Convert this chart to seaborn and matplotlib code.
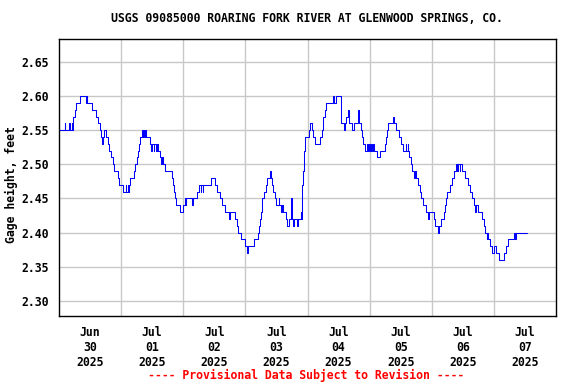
import pandas as pd
import matplotlib
matplotlib.use("Agg")
import matplotlib.pyplot as plt
import seaborn as sns

# gage height change points: hours after Jun 30 2025 00:00, value in feet
hours = [
    0.0, 2.2, 2.4, 3.9, 4.1, 4.9, 5.1, 5.3, 5.6, 6.2, 6.7, 8.0, 10.5, 10.8, 11.0,
    12.8, 14.4, 15.2, 15.7, 16.4, 16.8, 17.0, 17.3, 18.2, 19.0, 19.5, 20.0, 20.9,
    21.3, 22.9, 23.1, 24.8, 25.7, 25.9, 26.7, 27.0, 27.2, 27.4, 28.9, 29.5, 30.2,
    30.6, 31.0, 31.3, 31.9, 32.3, 32.5, 33.0, 33.2, 33.5, 35.1, 35.7, 35.9, 36.6,
    36.8, 37.6, 37.8, 38.3, 38.9, 39.3, 39.7, 40.2, 40.8, 43.7, 44.0, 44.4, 44.8,
    45.3, 46.6, 47.9, 48.7, 48.9, 49.2, 51.5, 51.7, 53.3, 54.1, 54.7, 54.9, 55.6,
    55.8, 58.8, 60.2, 61.0, 62.3, 63.0, 64.3, 65.6, 66.0, 67.9, 68.6, 69.2, 70.5,
    71.8, 72.6, 73.0, 75.5, 77.0, 77.3, 77.6, 78.0, 78.3, 78.6, 79.2, 79.8, 80.5,
    81.4, 81.8, 82.1, 82.7, 83.3, 84.0, 84.9, 85.1, 85.9, 86.3, 86.5, 87.8, 88.2,
    88.7, 89.8, 90.1, 90.4, 90.7, 92.1, 92.4, 93.4, 93.6, 93.9, 94.0, 94.3, 94.6,
    95.0, 96.7, 97.0, 97.7, 98.2, 98.8, 100.8, 101.5, 101.8, 102.0, 102.8, 103.3,
    105.9, 106.4, 106.9, 108.9, 109.1, 110.1, 110.5, 110.8, 111.6, 111.9, 113.3,
    113.9, 115.6, 115.9, 116.8, 117.2, 117.6, 118.1, 118.8, 119.2, 119.8, 120.0,
    120.6, 121.0, 121.4, 121.6, 122.8, 123.9, 125.8, 126.3, 126.7, 127.1, 129.1,
    129.3, 130.0, 131.3, 132.3, 133.0, 133.9, 134.1, 134.8, 135.0, 135.2, 135.8,
    136.4, 137.0, 137.5, 137.8, 138.8, 139.3, 140.0, 140.5, 141.6, 142.6, 142.9,
    144.8, 145.4, 146.5, 146.8, 147.4, 148.6, 149.3, 149.6, 149.9, 151.2, 151.8,
    152.5, 153.4, 153.7, 154.1, 154.8, 155.0, 155.7, 157.0, 158.0, 158.9, 159.5,
    160.2, 160.6, 161.1, 161.8, 163.6, 164.0, 164.7, 165.2, 165.4, 165.9, 166.6,
    167.2, 168.2, 168.7, 169.8, 172.1, 172.6, 173.3, 175.6, 176.2, 176.5, 180.7,
]
gage_ft = [
    2.55, 2.56, 2.55, 2.56, 2.55, 2.56, 2.55, 2.56, 2.57, 2.58, 2.59, 2.60, 2.59, 2.60, 2.59,
    2.58, 2.57, 2.56, 2.55, 2.54, 2.53, 2.54, 2.55, 2.54, 2.53, 2.52, 2.51, 2.50,
    2.49, 2.48, 2.47, 2.46, 2.47, 2.46, 2.47, 2.46, 2.47, 2.48, 2.49, 2.50, 2.51,
    2.52, 2.53, 2.54, 2.55, 2.54, 2.55, 2.54, 2.55, 2.54, 2.53, 2.52, 2.53, 2.52,
    2.53, 2.52, 2.53, 2.52, 2.51, 2.50, 2.51, 2.50, 2.49, 2.48, 2.47, 2.46, 2.45,
    2.44, 2.43, 2.44, 2.45, 2.44, 2.45, 2.44, 2.45, 2.46, 2.47, 2.46, 2.47, 2.46,
    2.47, 2.48, 2.47, 2.46, 2.45, 2.44, 2.43, 2.42, 2.43, 2.42, 2.41, 2.40, 2.39,
    2.38, 2.37, 2.38, 2.39, 2.40, 2.41, 2.42, 2.43, 2.44, 2.45, 2.46, 2.47, 2.48,
    2.49, 2.48, 2.47, 2.46, 2.45, 2.44, 2.45, 2.44, 2.43, 2.44, 2.43, 2.42, 2.41,
    2.42, 2.45, 2.42, 2.41, 2.42, 2.41, 2.42, 2.43, 2.42, 2.44, 2.47, 2.49, 2.52,
    2.54, 2.55, 2.56, 2.55, 2.54, 2.53, 2.54, 2.55, 2.56, 2.57, 2.58, 2.59,
    2.60, 2.59, 2.60, 2.57, 2.56, 2.55, 2.56, 2.57, 2.58, 2.56, 2.55,
    2.56, 2.58, 2.56, 2.55, 2.54, 2.53, 2.52, 2.53, 2.52, 2.53, 2.52,
    2.53, 2.52, 2.53, 2.52, 2.51, 2.52, 2.53, 2.54, 2.55, 2.56, 2.57,
    2.56, 2.55, 2.54, 2.53, 2.52, 2.53, 2.52, 2.53, 2.52, 2.51, 2.50,
    2.49, 2.48, 2.49, 2.48, 2.47, 2.46, 2.45, 2.44, 2.43, 2.42, 2.43,
    2.42, 2.41, 2.40, 2.41, 2.42, 2.43, 2.44, 2.45, 2.46, 2.47, 2.48,
    2.49, 2.50, 2.49, 2.50, 2.49, 2.50, 2.49, 2.48, 2.47, 2.46, 2.45,
    2.44, 2.43, 2.44, 2.43, 2.42, 2.41, 2.40, 2.39, 2.40, 2.39, 2.38,
    2.37, 2.38, 2.37, 2.36, 2.37, 2.38, 2.39, 2.40, 2.39, 2.40, 2.40,
]

y_ticks = [2.30, 2.35, 2.40, 2.45, 2.50, 2.55, 2.60, 2.65]
day_labels = ["Jun\n30\n2025", "Jul\n01\n2025", "Jul\n02\n2025", "Jul\n03\n2025",
              "Jul\n04\n2025", "Jul\n05\n2025", "Jul\n06\n2025", "Jul\n07\n2025"]

TITLE = "USGS 09085000 ROARING FORK RIVER AT GLENWOOD SPRINGS, CO."
FOOTER = "---- Provisional Data Subject to Revision ----"

start = pd.Timestamp("2025-06-30")
df = pd.DataFrame({
    "time": start + pd.to_timedelta(hours, unit="h"),
    "gage": gage_ft,
})

sns.set_style("white")
plt.rcParams.update({
    "font.family": "DejaVu Sans Mono",
    "font.weight": "bold",
    "font.size": 8.3,
    "text.color": "black",
    "axes.labelcolor": "black",
    "xtick.color": "black",
    "ytick.color": "black",
})

fig = plt.figure(figsize=(5.76, 3.84), dpi=100)
ax = fig.add_axes([59 / 576, 1 - 316 / 384, 497 / 576, 277 / 384])

sns.lineplot(data=df, x="time", y="gage", ax=ax, color="#0000ff",
             linewidth=0.75, drawstyle="steps-post", estimator=None, sort=False)

# labels sit at noon, grid lines at midnight
noons = [start + pd.Timedelta(days=i, hours=12) for i in range(len(day_labels))]
midnights = [start + pd.Timedelta(days=i) for i in range(1, 8)]
ax.set_xticks(noons)
ax.set_xticklabels(day_labels, fontweight="bold")
ax.set_xticks(midnights, minor=True)
ax.set_xlim(start, start + pd.Timedelta(days=8))

ax.set_yticks(y_ticks)
ax.set_yticklabels([f"{v:.2f}" for v in y_ticks], fontweight="bold")
ax.set_ylim(2.2776, 2.6837)

ax.grid(False)
ax.grid(True, axis="x", which="minor", color="#c8c8c8", linewidth=1)
ax.grid(True, axis="y", which="major", color="#c8c8c8", linewidth=1)
ax.set_axisbelow(True)
ax.tick_params(axis="both", which="both", length=0)
ax.tick_params(axis="x", pad=7)
ax.tick_params(axis="y", pad=7)

for s in ax.spines.values():
    s.set_color("black")
    s.set_linewidth(1)

ax.set_xlabel("")
ax.set_ylabel("Gage height, feet", fontweight="bold")
ax.yaxis.set_label_coords(-0.083, 0.473)

fig.text(307 / 576, 1 - 19 / 384, TITLE, ha="center", va="center", fontweight="bold")
fig.text(306 / 576, 1 - 375 / 384, FOOTER, ha="center", va="center",
         color="#ff0000", fontweight="bold")

fig.savefig("out.png", dpi=100)
